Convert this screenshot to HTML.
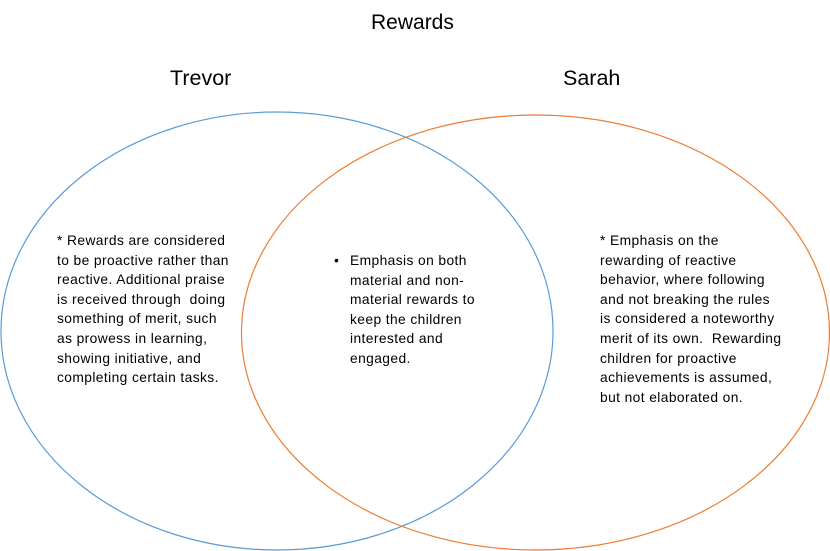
<!DOCTYPE html>
<html><head><meta charset="utf-8"><style>
body{margin:0;width:830px;height:551px;background:#fff;overflow:hidden;position:relative;font-family:"Liberation Sans",sans-serif;}
.t{position:absolute;white-space:nowrap;color:#000;}
.b{position:absolute;font-size:13.8px;letter-spacing:0.4px;line-height:19.6px;white-space:nowrap;color:#000;}
</style></head><body>
<svg width="830" height="551" style="position:absolute;left:0;top:0">
<ellipse cx="277" cy="331" rx="276" ry="219" fill="none" stroke="#5b9bd5" stroke-width="1.2"/>
<ellipse cx="535.5" cy="332.5" rx="294" ry="217.5" fill="none" stroke="#ed7d31" stroke-width="1.2"/>
</svg>
<div class="t" style="left:371px;top:11px;font-size:21px;">Rewards</div>
<div class="t" style="left:170px;top:66px;font-size:21.5px;">Trevor</div>
<div class="t" style="left:563px;top:66px;font-size:21.5px;">Sarah</div>
<div class="b" style="left:57px;top:231px;">* Rewards are considered<br>to be proactive rather than<br>reactive. Additional praise<br>is received through &nbsp;doing<br>something of merit, such<br>as prowess in learning,<br>showing initiative, and<br>completing certain tasks.</div>
<div class="b" style="left:334px;top:251px;">•</div>
<div class="b" style="left:350px;top:251px;">Emphasis on both<br>material and non-<br>material rewards to<br>keep the children<br>interested and<br>engaged.</div>
<div class="b" style="left:600px;top:231px;">* Emphasis on the<br>rewarding of reactive<br>behavior, where following<br>and not breaking the rules<br>is considered a noteworthy<br>merit of its own. &nbsp;Rewarding<br>children for proactive<br>achievements is assumed,<br>but not elaborated on.</div>
</body></html>
